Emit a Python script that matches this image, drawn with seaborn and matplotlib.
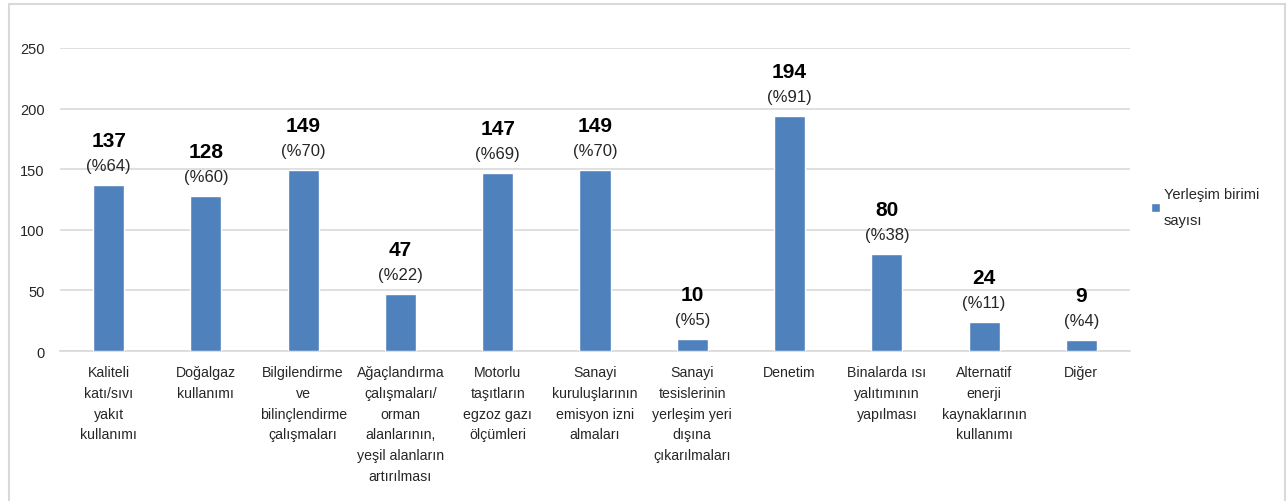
import matplotlib
matplotlib.use("Agg")
import matplotlib.pyplot as plt
from matplotlib.patches import Rectangle
import seaborn as sns
import pandas as pd

categories = [
    "Kaliteli\nkatı/sıvı\nyakıt\nkullanımı",
    "Doğalgaz\nkullanımı",
    "Bilgilendirme\nve\nbilinçlendirme\nçalışmaları",
    "Ağaçlandırma\nçalışmaları/\norman\nalanlarının,\nyeşil alanların\nartırılması",
    "Motorlu\ntaşıtların\negzoz gazı\nölçümleri",
    "Sanayi\nkuruluşlarının\nemisyon izni\nalmaları",
    "Sanayi\ntesislerinin\nyerleşim yeri\ndışına\nçıkarılmaları",
    "Denetim",
    "Binalarda ısı\nyalıtımının\nyapılması",
    "Alternatif\nenerji\nkaynaklarının\nkullanımı",
    "Diğer",
]
values = [137, 128, 149, 47, 147, 149, 10, 194, 80, 24, 9]
percents = [64, 60, 70, 22, 69, 70, 5, 91, 38, 11, 4]
series_name = "Yerleşim birimi\nsayısı"
y_ticks = [0, 50, 100, 150, 200, 250]

sns.set_theme(style="white")
plt.rcParams["font.family"] = ["Liberation Sans", "DejaVu Sans"]

df = pd.DataFrame({"cat": categories, "val": values})

fig = plt.figure(figsize=(12.87, 5.02), dpi=100)
ax = fig.add_axes([60 / 1287, 1 - 352 / 502, (1130 - 60) / 1287, (352 - 49) / 502])

sns.barplot(data=df, x="cat", y="val", color="#4F81BD", saturation=1,
            width=0.32, ax=ax, label=series_name, zorder=3)

ax.set_xlim(-0.5, len(categories) - 0.5)
ax.set_ylim(0, 250)
ax.set_yticks(y_ticks)
ax.set_yticklabels([str(t) for t in y_ticks], fontsize=10.5, color="#262626")
ax.yaxis.grid(True, color="#D9D9D9", linewidth=1.2, zorder=0)
ax.set_axisbelow(True)
ax.set_xlabel("")
ax.set_ylabel("")
ax.tick_params(axis="y", length=0, pad=11)
ax.tick_params(axis="x", length=0, pad=10)
ax.set_xticks(range(len(categories)))
ax.set_xticklabels(categories, fontsize=10.2, color="#262626", linespacing=1.62,
                   va="top")
for s in ["top", "right", "left"]:
    ax.spines[s].set_visible(False)
ax.spines["bottom"].set_color("#D9D9D9")
ax.spines["bottom"].set_linewidth(1.2)

for i, (v, p) in enumerate(zip(values, percents)):
    ax.annotate(str(v), (i, v), xytext=(0, 32), textcoords="offset points",
                ha="center", va="center", fontsize=15, fontweight="bold",
                color="#000000")
    ax.annotate(f"(%{p})", (i, v), xytext=(0, 14), textcoords="offset points",
                ha="center", va="center", fontsize=12, color="#262626")

leg = ax.legend(loc="center left", bbox_to_anchor=(1145 / 1287, 1 - 208 / 502),
                bbox_transform=fig.transFigure, frameon=False, fontsize=10.5,
                handlelength=0.6, handleheight=0.6, handletextpad=0.3,
                borderaxespad=0)
for t in leg.get_texts():
    t.set_linespacing(2.0)
    t.set_color("#262626")

fig.patches.append(Rectangle((9 / 1287, -0.05), (1285 - 9) / 1287, 1.05 - 5 / 502,
                             transform=fig.transFigure, fill=False,
                             edgecolor="#D9D9D9", linewidth=1.5, zorder=0))

fig.savefig("out.png", dpi=100)
